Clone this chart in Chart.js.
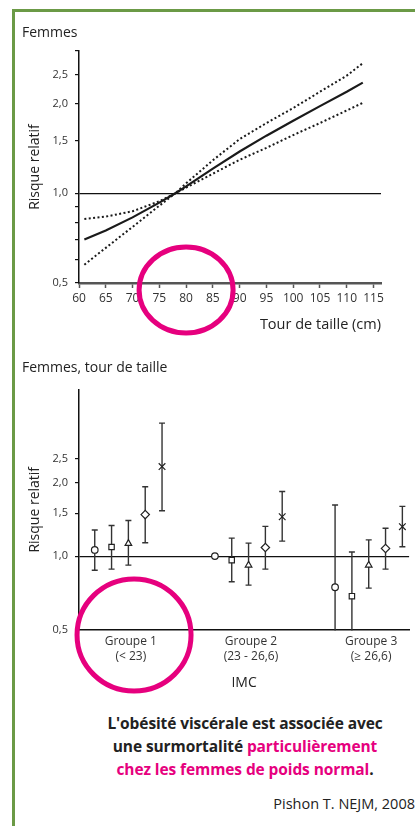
<!DOCTYPE html>
<html lang="fr">
<head>
<meta charset="utf-8">
<title>Tour de taille et risque relatif</title>
<script src="https://cdn.jsdelivr.net/npm/chart.js@4.4.1/dist/chart.umd.min.js"></script>
<style>
  html, body { margin: 0; padding: 0; background: #fff; }
  body { width: 415px; height: 826px; position: relative; overflow: hidden; font-family: 'Open Sans', sans-serif; color: #222; }
  #cadre { position: absolute; left: 12px; top: 9px; width: 420px; height: 830px; border-left: 3px solid #6b9a46; border-top: 3px solid #6b9a46; }
  canvas { position: absolute; left: 0; }
  #c1 { top: 0; }
  #c2 { top: 350px; }
  .titre { position: absolute; left: 22px; font-size: 14px; line-height: 18px; white-space: nowrap; }
  #conclusion { position: absolute; left: 65px; width: 360px; top: 712px; text-align: center; font-size: 15.5px; line-height: 23px; font-weight: 700; color: #222; letter-spacing: -0.1px; }
  #conclusion span { color: #e6007e; }
  #source { position: absolute; right: 0; top: 794px; font-size: 14.5px; line-height: 20px; white-space: nowrap; }
</style>
</head>
<body>
<div id="cadre"></div>
<canvas id="c1" width="415" height="345"></canvas>
<canvas id="c2" width="415" height="350"></canvas>
<div class="titre" style="top:23px">Femmes</div>
<div class="titre" style="top:358px">Femmes, tour de taille</div>
<div id="conclusion">L'obésité viscérale est associée avec<br>une surmortalité <span>particulièrement</span><br><span>chez les femmes de poids normal</span>.</div>
<div id="source">Pishon T. NEJM, 2008</div>

<script>
// Graphique du haut : risque relatif selon le tour de taille (cm)
const tourTaille = [61, 65, 70, 75, 78, 80, 85, 90, 95, 100, 105, 110, 113];
const risqueCentral = [0.70, 0.75, 0.83, 0.93, 1.00, 1.054, 1.21, 1.38, 1.56, 1.75, 1.96, 2.19, 2.35];
const risqueHaut = [0.82, 0.835, 0.87, 0.94, 1.00, 1.08, 1.29, 1.52, 1.72, 1.93, 2.19, 2.48, 2.73];
const risqueBas = [0.576, 0.656, 0.771, 0.908, 1.00, 1.044, 1.163, 1.295, 1.42, 1.567, 1.72, 1.895, 2.01];
const ticksTaille = [60, 65, 70, 75, 80, 85, 90, 95, 100, 105, 110, 115];
const ticksRisqueHaut = [0.5, 0.6, 0.7, 0.8, 0.9, 1.0, 1.5, 2.0, 2.5, 3.0];
const etiquettesRisque = [0.5, 1.0, 1.5, 2.0, 2.5];

// Graphique du bas : une série par classe de tour de taille, par groupe d'IMC
const groupesImc = [['Groupe 1', '(< 23)'], ['Groupe 2', '(23 - 26,6)'], ['Groupe 3', '(≥ 26,6)']];
const rrCercle = [1.06, 1.00, 0.745];
const basCercle = [0.875, null, 0.48];
const hautCercle = [1.28, null, 1.62];
const rrCarre = [1.09, 0.963, 0.685];
const basCarre = [0.884, 0.785, 0.48];
const hautCarre = [1.335, 1.185, 1.04];
const rrTriangle = [1.127, 0.918, 0.918];
const basTriangle = [0.918, 0.76, 0.739];
const hautTriangle = [1.40, 1.13, 1.166];
const rrLosange = [1.48, 1.085, 1.075];
const basLosange = [1.134, 0.884, 0.884];
const hautLosange = [1.925, 1.324, 1.30];
const rrCroix = [2.33, 1.45, 1.32];
const basCroix = [1.535, 1.152, 1.092];
const hautCroix = [3.51, 1.84, 1.60];
const ticksRisqueBas = [0.5, 1.0, 1.5, 2.0, 2.5];

Chart.defaults.font.family = "'Open Sans', sans-serif";
const virgule = v => v.toFixed(1).replace('.', ',');

// barres d'erreur verticales, dessinées sous les marqueurs
const barresErreur = {
    id: 'barresErreur',
    beforeDatasetsDraw(chart) {
        const { ctx, chartArea: a, scales: { x, y } } = chart;
        ctx.save();
        ctx.beginPath();
        ctx.rect(a.left, a.top, a.right - a.left, a.bottom - a.top + 1);
        ctx.clip();
        ctx.strokeStyle = '#333';
        ctx.lineWidth = 1.4;
        chart.data.datasets.forEach(ds => {
            ds.data.forEach((p, i) => {
                if (ds.bas[i] == null) return;
                const px = x.getPixelForValue(p.x);
                const y1 = y.getPixelForValue(ds.bas[i]);
                const y2 = y.getPixelForValue(ds.haut[i]);
                ctx.beginPath();
                ctx.moveTo(px, y1); ctx.lineTo(px, y2);
                ctx.moveTo(px - 3, y1); ctx.lineTo(px + 3, y1);
                ctx.moveTo(px - 3, y2); ctx.lineTo(px + 3, y2);
                ctx.stroke();
            });
        });
        ctx.restore();
    }
};

// cercle rose de mise en évidence
const cercleRose = {
    id: 'cercleRose',
    afterDraw(chart, args, opts) {
        const { ctx, scales: { x, y } } = chart;
        ctx.save();
        ctx.strokeStyle = '#e6007e';
        ctx.lineWidth = 5;
        ctx.beginPath();
        ctx.ellipse(x.getPixelForValue(opts.x), y.getPixelForValue(opts.y) + opts.dy, opts.rx, opts.ry, 0, 0, Math.PI * 2);
        ctx.stroke();
        ctx.restore();
    }
};

const axeY = (ticks, largeur) => ({
    type: 'logarithmic',
    afterBuildTicks: s => { s.ticks = ticks.map(v => ({ value: v })); },
    afterFit: s => { s.width = largeur; },
    border: { color: '#111', width: 1.5 },
    grid: {
        color: c => (c.tick && c.tick.value === 1 ? '#111' : 'rgba(0,0,0,0)'),
        lineWidth: 1.2,
        tickLength: 4,
        tickColor: '#111',
        tickWidth: 1.2
    },
    ticks: {
        autoSkip: false,
        padding: 7,
        color: '#333',
        font: { size: 11 },
        callback: v => (etiquettesRisque.includes(v) ? virgule(v) : '')
    },
    title: { display: true, text: 'Risque relatif', color: '#222', font: { size: 14 }, padding: { top: 27 } }
});

const ligne = (valeurs, pointille) => ({
    data: tourTaille.map((t, i) => ({ x: t, y: valeurs[i] })),
    borderColor: '#1a1a1a',
    borderWidth: pointille ? 2 : 2.2,
    borderDash: pointille ? [2, 2.4] : [],
    pointRadius: 0,
    tension: 0
});

new Chart(document.getElementById('c1'), {
    type: 'line',
    data: { datasets: [ligne(risqueHaut, true), ligne(risqueBas, true), ligne(risqueCentral, false)] },
    options: {
        responsive: false,
        animation: false,
        layout: { padding: { top: 51, right: 34, left: 0, bottom: 0 } },
        plugins: {
            legend: { display: false },
            tooltip: { enabled: false },
            cercleRose: { x: 80, y: 0.5, dy: 7, rx: 47, ry: 43 }
        },
        scales: {
            x: {
                type: 'linear', min: 60, max: 116.4,
                afterBuildTicks: s => { s.ticks = ticksTaille.map(v => ({ value: v })); },
                afterFit: s => { s.height = 62; },
                border: { color: '#555', width: 2.5 },
                grid: { drawOnChartArea: false, tickLength: 5, tickColor: '#555', tickWidth: 1.5 },
                ticks: { autoSkip: false, maxRotation: 0, padding: 3, color: '#333', font: { size: 12 } },
                title: { display: true, text: 'Tour de taille (cm)', align: 'end', color: '#222', font: { size: 14.5 }, padding: { top: 0, bottom: 11.6 } }
            },
            y: { ...axeY(ticksRisqueHaut, 79), min: 0.5, max: 3 }
        }
    },
    plugins: [cercleRose]
});

const series = [
    { rr: rrCercle, bas: basCercle, haut: hautCercle, style: 'circle', rayon: 3.3 },
    { rr: rrCarre, bas: basCarre, haut: hautCarre, style: 'rect', rayon: 3.8 },
    { rr: rrTriangle, bas: basTriangle, haut: hautTriangle, style: 'triangle', rayon: 3.8 },
    { rr: rrLosange, bas: basLosange, haut: hautLosange, style: 'rectRot', rayon: 4.2 },
    { rr: rrCroix, bas: basCroix, haut: hautCroix, style: 'crossRot', rayon: 4.7 }
];
const decalages = [-0.3, -0.16, -0.02, 0.12, 0.26];

new Chart(document.getElementById('c2'), {
    type: 'scatter',
    data: {
        datasets: series.map((s, k) => ({
            data: s.rr.map((v, i) => ({ x: i + 1 + decalages[k], y: v })),
            bas: s.bas,
            haut: s.haut,
            pointStyle: s.style,
            pointRadius: s.rayon,
            pointBackgroundColor: '#fff',
            pointBorderColor: '#222',
            pointBorderWidth: 1.2
        }))
    },
    options: {
        responsive: false,
        animation: false,
        layout: { padding: { top: 40, right: 0, left: 0, bottom: 0 } },
        plugins: {
            legend: { display: false },
            tooltip: { enabled: false },
            cercleRose: { x: 1.027, y: 0.5, dy: 5.5, rx: 57, ry: 56 }
        },
        scales: {
            x: {
                type: 'linear', min: 0.569, max: 3.316,
                afterBuildTicks: s => { s.ticks = [1, 2, 3].map(v => ({ value: v })); },
                afterFit: s => { s.height = 70.5; },
                border: { color: '#111', width: 1.5 },
                grid: { drawOnChartArea: false, drawTicks: false },
                ticks: {
                    autoSkip: false, maxRotation: 0, padding: 4, color: '#333',
                    font: { size: 12, lineHeight: 1.27 },
                    callback: v => groupesImc[Math.round(v) - 1]
                },
                title: { display: true, text: 'IMC', color: '#222', font: { size: 14 }, padding: { top: 0, bottom: 8.3 } }
            },
            y: { ...axeY(ticksRisqueBas, 79), min: 0.5, max: 4.8 }
        }
    },
    plugins: [barresErreur, cercleRose]
});
</script>
</body>
</html>
